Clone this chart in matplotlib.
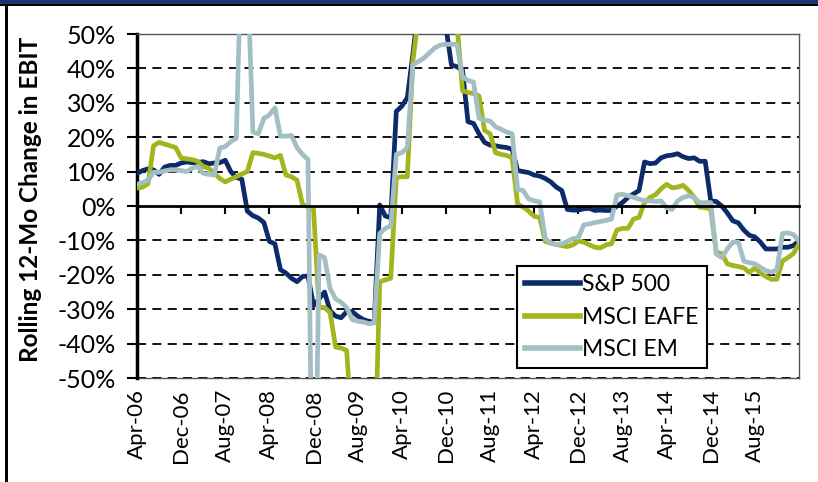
import matplotlib.pyplot as plt
from matplotlib.patches import Rectangle
from matplotlib.ticker import FuncFormatter
import numpy as np

# monthly points, Apr-06 .. Apr-16
tick_labels = ['Apr-06', 'Dec-06', 'Aug-07', 'Apr-08', 'Dec-08', 'Aug-09', 'Apr-10',
               'Dec-10', 'Aug-11', 'Apr-12', 'Dec-12', 'Aug-13', 'Apr-14', 'Dec-14', 'Aug-15']

sp500 = [9.5, 10.3, 10.8, 10.5, 9.2, 11.3, 11.8, 11.8, 12.5, 12.8,
         12.6, 12.6, 12.9, 12.3, 12.5, 12.6, 13.3, 10.0, 8.3, 7.8,
         -1.5, -2.8, -3.5, -4.8, -10.3, -11.0, -18.5, -19.5, -21.0, -22.0,
         -20.5, -20.3, -29.0, -27.0, -25.0, -30.5, -32.0, -32.5, -30.7, -30.7,
         -32.0, -33.0, -33.5, -33.8, 0.3, -2.9, -3.4, 27.5, 29.0, 31.5,
         44.0, 58.0, 60.0, 62.0, 60.0, 58.0, 52.0, 41.0, 40.5, 39.5,
         24.5, 24.0, 21.0, 18.5, 17.7, 17.5, 17.2, 17.0, 16.5, 10.3,
         10.0, 9.7, 9.0, 8.7, 8.0, 7.0, 5.5, 4.5, -1.0, -1.2,
         -1.2, -0.8, -0.7, -1.3, -1.2, -1.3, -1.3, 0.0, 1.0, 2.5,
         3.5, 4.5, 12.8, 12.3, 12.5, 14.0, 14.6, 14.8, 15.2, 14.3,
         13.8, 14.0, 13.0, 13.0, 1.5, 1.3, 0.0, -2.0, -4.3, -4.9,
         -7.0, -8.5, -9.0, -10.5, -12.5, -12.5, -12.5, -12.0, -12.0, -11.5,
         -10.0]

eafe = [5.2, 5.5, 6.5, 17.5, 18.5, 18.0, 17.5, 17.0, 14.0, 13.7,
        13.5, 13.0, 11.5, 11.0, 9.5, 8.0, 7.0, 7.8, 8.5, 9.3,
        10.0, 15.5, 15.3, 15.0, 14.5, 14.0, 14.7, 9.0, 8.5, 7.5,
        0.5, -0.3, -1.0, -29.5, -29.5, -31.0, -41.0, -41.3, -42.0, -65.0,
        -70.0, -75.0, -80.0, -80.0, -22.0, -21.5, -21.0, 8.3, 8.5, 8.5,
        42.0, 55.0, 60.0, 62.0, 60.0, 58.0, 56.0, 54.0, 53.0, 33.5,
        33.0, 32.7, 32.0, 22.0, 21.0, 15.5, 15.0, 14.7, 14.0, 0.5,
        -0.3, -1.5, -3.0, -3.3, -10.3, -10.8, -11.2, -11.5, -11.8, -11.3,
        -10.2, -10.5, -11.3, -12.0, -12.2, -11.3, -11.0, -7.0, -6.5, -6.5,
        -3.8, -3.3, 1.0, 2.5, 3.3, 5.0, 6.3, 5.3, 5.5, 6.0,
        4.5, 2.5, -0.3, -0.5, -0.8, -13.5, -13.8, -16.8, -17.3, -17.6,
        -18.0, -19.3, -18.0, -19.5, -20.5, -21.3, -21.3, -16.0, -15.0, -13.8,
        -11.0]

em = [6.3, 6.8, 7.5, 9.8, 9.8, 10.2, 10.5, 10.5, 10.3, 10.0,
      11.0, 11.5, 9.5, 9.2, 9.0, 16.8, 17.3, 18.7, 19.7, 80.0,
      70.0, 21.5, 21.0, 25.5, 26.5, 28.5, 20.3, 20.3, 20.5, 17.0,
      15.0, 13.5, -120.0, -14.2, -15.0, -24.0, -27.0, -28.0, -29.5, -33.0,
      -33.5, -33.7, -34.2, -34.0, -8.0, -6.5, -5.8, 15.0, 15.5, 17.0,
      41.0, 42.0, 43.0, 44.5, 46.0, 46.8, 47.0, 47.0, 47.0, 37.5,
      36.5, 36.0, 25.5, 25.0, 24.7, 23.0, 22.3, 21.5, 21.0, 4.8,
      4.5, 2.0, 1.5, 1.2, -9.5, -10.7, -11.2, -11.0, -10.3, -9.5,
      -9.2, -5.5, -5.2, -4.8, -4.5, -4.2, -3.8, 3.2, 3.4, 3.0,
      2.5, 2.0, 1.5, 1.5, 1.3, 1.5, -0.5, -1.0, 1.5, 2.5,
      3.0, 2.5, 1.0, 1.0, 1.0, -14.0, -15.0, -12.5, -10.5, -10.5,
      -16.0, -16.5, -16.8, -17.8, -18.8, -19.3, -18.5, -8.0, -7.8, -8.3,
      -10.3]

months = np.arange(len(sp500))
tick_pos = np.arange(0, 8 * len(tick_labels), 8)

plt.rcParams['font.family'] = ['Lato', 'DejaVu Sans']

fig = plt.figure(figsize=(8.18, 4.82), dpi=100)
ax = fig.add_axes([137 / 818, 1 - 378 / 482, 662 / 818, 344 / 482])

# frame around the whole chart
fig.add_artist(Rectangle((0, 1 - 3.5 / 482), 1, 3.5 / 482, transform=fig.transFigure,
                         color='#1c3470', lw=0))
fig.add_artist(Rectangle((0, 1 - 6 / 482), 1, 2.5 / 482, transform=fig.transFigure,
                         color='black', lw=0))
fig.add_artist(Rectangle((5 / 818, 0), 3 / 818, 1 - 6 / 482, transform=fig.transFigure,
                         color='black', lw=0))

for y in np.arange(-50, 51, 10):
    if y != 0:
        ax.axhline(y, color='black', lw=1.3, ls=(0, (5, 3.5)), zorder=1)

ax.plot(months, sp500, color='#0d2a6b', lw=3.4, label='S&P 500', zorder=3)
ax.plot(months, eafe, color='#a3b41c', lw=3.4, label='MSCI EAFE', zorder=4)
ax.plot(months, em, color='#a4bfc4', lw=3.4, label='MSCI EM', zorder=5)

ax.set_xlim(0, 120)
ax.set_ylim(-50, 50)
ax.set_yticks(np.arange(-50, 51, 10))
ax.yaxis.set_major_formatter(FuncFormatter(lambda v, p: f'{v:.0f}%'))
ax.tick_params(axis='y', labelsize=18, length=7, width=1.5, direction='out', pad=8)
ax.set_ylabel('Rolling 12-Mo Change in EBIT', fontsize=17.5, fontweight='bold')
ax.yaxis.set_label_coords(-0.143, 0.52)

# category axis crosses at zero, labels stay at the bottom
ax.spines['bottom'].set_position(('data', 0))
ax.spines['bottom'].set_linewidth(2)
ax.spines['bottom'].set_zorder(6)
ax.set_xticks(tick_pos)
ax.tick_params(axis='x', labelbottom=False, length=6, width=1.5, direction='out')
ax.spines['left'].set_linewidth(2.5)
for s in ['top', 'right']:
    ax.spines[s].set_color('#555555')
    ax.spines[s].set_linewidth(1)

sec = ax.secondary_xaxis(0.0)
sec.set_xticks(tick_pos)
sec.set_xticklabels(tick_labels, rotation=90, fontsize=16)
sec.tick_params(length=0, pad=8)
sec.spines['bottom'].set_color('#555555')
sec.spines['bottom'].set_linewidth(1)

leg = ax.legend(loc='lower left', bbox_to_anchor=(0.574, 0.029), fontsize=16.5,
                frameon=True, fancybox=False, edgecolor='black', framealpha=1,
                handlelength=2.4, handletextpad=0.1, labelspacing=0.5,
                borderpad=0.35, borderaxespad=0)
leg.get_frame().set_linewidth(1.5)
for h in leg.get_lines():
    h.set_linewidth(4)
leg.set_zorder(10)

fig.savefig('out.png', dpi=100)
